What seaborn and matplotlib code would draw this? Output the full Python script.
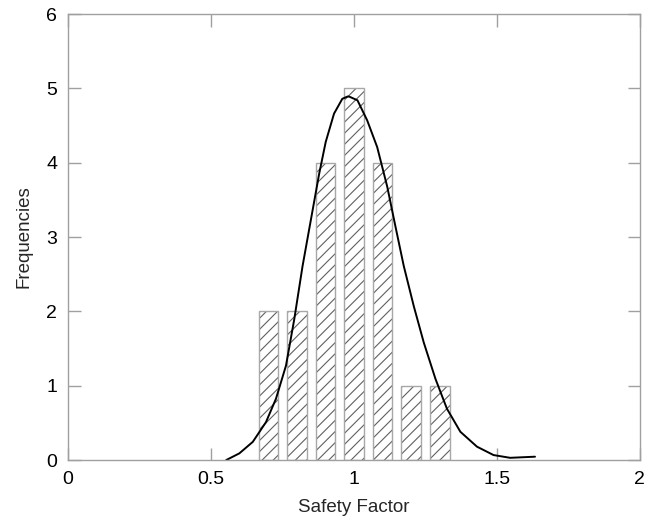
import matplotlib
matplotlib.use("Agg")
import matplotlib.pyplot as plt
import seaborn as sns
import pandas as pd

# Histogram of safety factors (bin centres and counts)
safety_factor = [0.7, 0.8, 0.9, 1.0, 1.1, 1.2, 1.3]
frequency = [2, 2, 4, 5, 4, 1, 1]

# Fitted distribution curve, sampled along its length
curve_x = [0.553, 0.599, 0.646, 0.692, 0.727, 0.762, 0.791, 0.820, 0.849, 0.878,
           0.901, 0.930, 0.959, 0.977, 0.983, 1.012, 1.046, 1.081, 1.116, 1.145,
           1.174, 1.209, 1.244, 1.285, 1.325, 1.372, 1.430, 1.488, 1.546, 1.633]
curve_y = [0.00, 0.09, 0.245, 0.51, 0.825, 1.27, 1.895, 2.61, 3.23, 3.85,
           4.28, 4.66, 4.86, 4.89, 4.89, 4.84, 4.57, 4.21, 3.68, 3.14,
           2.61, 2.07, 1.58, 1.09, 0.69, 0.38, 0.18, 0.067, 0.03, 0.045]

x_ticks = [0, 0.5, 1, 1.5, 2]
x_tick_labels = ["0", "0.5", "1", "1.5", "2"]
y_ticks = [0, 1, 2, 3, 4, 5, 6]

sns.set_style("white")
plt.rcParams["font.family"] = ["Liberation Sans", "DejaVu Sans"]
plt.rcParams["hatch.linewidth"] = 0.8

hist = pd.DataFrame({"sf": safety_factor, "freq": frequency})
curve = pd.DataFrame({"x": curve_x, "y": curve_y})

fig = plt.figure(figsize=(6.55, 5.21), dpi=100)
ax = fig.add_axes([0.104, 0.117, 0.873, 0.856])

# hatched fill, then light grey outline on top
sns.barplot(data=hist, x="sf", y="freq", native_scale=True, width=0.68,
            color="white", edgecolor="#606060", linewidth=0, hatch="///",
            errorbar=None, ax=ax)
sns.barplot(data=hist, x="sf", y="freq", native_scale=True, width=0.68,
            fill=False, color="#a8a8a8", linewidth=1.0,
            errorbar=None, ax=ax)

line_ax = sns.lineplot(data=curve, x="x", y="y", color="black", linewidth=1.4,
                       sort=True, ax=ax)
for ln in line_ax.lines:
    ln.set_solid_joinstyle("round")
    ln.set_solid_capstyle("round")

ax.set_xlim(0, 2)
ax.set_ylim(0, 6)
ax.set_xticks(x_ticks)
ax.set_xticklabels(x_tick_labels)
ax.set_yticks(y_ticks)

for side in ["left", "right", "top", "bottom"]:
    ax.spines[side].set_visible(True)
    ax.spines[side].set_color("#a0a0a0")
    ax.spines[side].set_linewidth(1.0)

ax.tick_params(axis="both", which="major", direction="in", length=9,
               width=1.0, color="#a0a0a0", labelsize=14, labelcolor="black",
               top=True, right=True, bottom=True, left=True)
ax.tick_params(axis="x", pad=8)
ax.tick_params(axis="y", pad=8)

ax.set_xlabel("Safety Factor", fontsize=13.5, labelpad=8)
ax.set_ylabel("Frequencies", fontsize=13.5, labelpad=10)

fig.savefig("out.png", dpi=100)
